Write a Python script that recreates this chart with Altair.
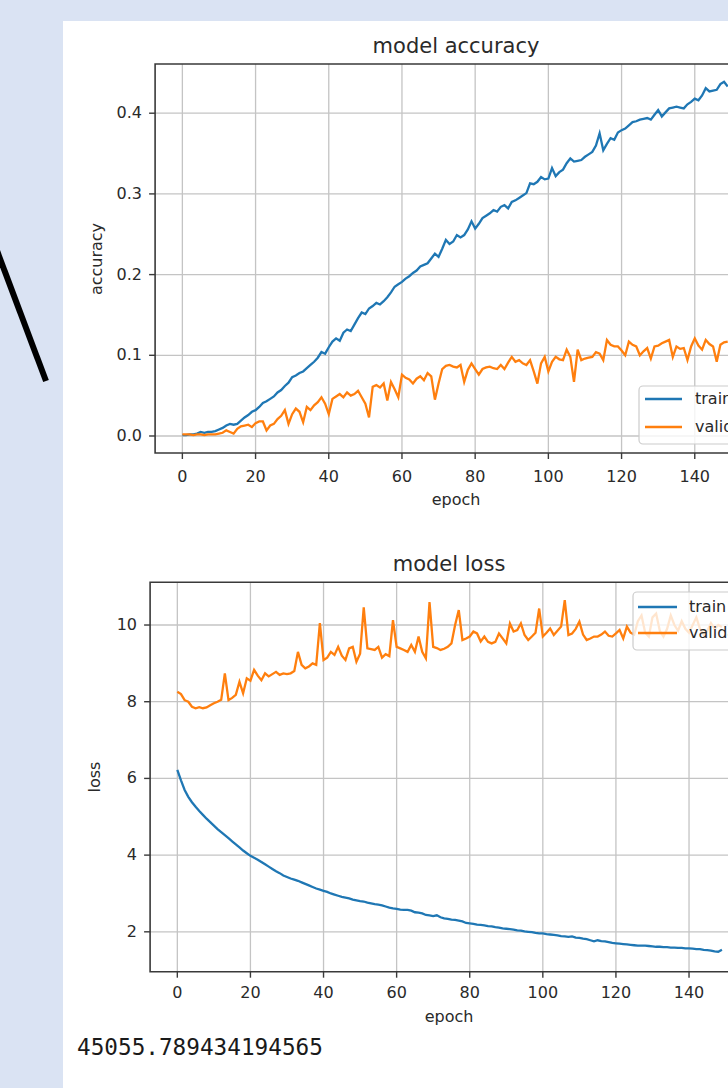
import altair as alt
import pandas as pd

# ---------------- data ----------------
epochs = list(range(150))
series_names = ["train", "validation"]
series_colors = ["#1f77b4", "#ff7f0e"]

train_acc = [
    0.001, 0.001, 0.002, 0.002, 0.003, 0.005, 0.004, 0.005, 0.005, 0.006,
    0.008, 0.010, 0.013, 0.015, 0.014, 0.015, 0.019, 0.023, 0.026, 0.030,
    0.032, 0.036, 0.041, 0.043, 0.046, 0.049, 0.054, 0.057, 0.062, 0.066,
    0.073, 0.075, 0.078, 0.080, 0.084, 0.088, 0.092, 0.097, 0.104, 0.102,
    0.110, 0.117, 0.121, 0.118, 0.128, 0.132, 0.130, 0.138, 0.146, 0.153,
    0.151, 0.158, 0.161, 0.165, 0.163, 0.167, 0.172, 0.178, 0.185, 0.188,
    0.191, 0.195, 0.198, 0.202, 0.205, 0.210, 0.212, 0.214, 0.220, 0.226,
    0.222, 0.232, 0.243, 0.238, 0.241, 0.249, 0.246, 0.249, 0.256, 0.266,
    0.257, 0.263, 0.270, 0.273, 0.276, 0.280, 0.278, 0.284, 0.286, 0.282,
    0.290, 0.292, 0.295, 0.298, 0.301, 0.313, 0.312, 0.315, 0.321, 0.318,
    0.319, 0.332, 0.322, 0.327, 0.330, 0.338, 0.344, 0.340, 0.341, 0.342,
    0.346, 0.349, 0.352, 0.360, 0.375, 0.354, 0.362, 0.369, 0.367, 0.376,
    0.379, 0.381, 0.385, 0.389, 0.390, 0.392, 0.393, 0.394, 0.392, 0.398,
    0.404, 0.396, 0.401, 0.406, 0.407, 0.408, 0.407, 0.406, 0.411, 0.414,
    0.418, 0.416, 0.422, 0.431, 0.427, 0.428, 0.429, 0.436, 0.439, 0.433,
]
val_acc = [
    0.002, 0.002, 0.002, 0.001, 0.002, 0.002, 0.001, 0.002, 0.002, 0.002,
    0.003, 0.004, 0.007, 0.005, 0.003, 0.009, 0.012, 0.013, 0.014, 0.011,
    0.016, 0.018, 0.018, 0.007, 0.013, 0.015, 0.021, 0.025, 0.032, 0.015,
    0.027, 0.034, 0.030, 0.017, 0.036, 0.032, 0.038, 0.042, 0.048, 0.040,
    0.027, 0.046, 0.049, 0.052, 0.048, 0.054, 0.050, 0.052, 0.056, 0.048,
    0.040, 0.023, 0.061, 0.063, 0.060, 0.065, 0.044, 0.067, 0.058, 0.048,
    0.076, 0.072, 0.070, 0.065, 0.071, 0.074, 0.069, 0.078, 0.074, 0.045,
    0.065, 0.083, 0.087, 0.088, 0.086, 0.085, 0.088, 0.067, 0.082, 0.090,
    0.083, 0.076, 0.083, 0.085, 0.086, 0.084, 0.083, 0.088, 0.083, 0.091,
    0.098, 0.092, 0.094, 0.090, 0.088, 0.094, 0.080, 0.065, 0.090, 0.098,
    0.080, 0.092, 0.098, 0.095, 0.094, 0.107, 0.098, 0.067, 0.107, 0.094,
    0.096, 0.097, 0.098, 0.104, 0.102, 0.094, 0.119, 0.113, 0.111, 0.111,
    0.106, 0.100, 0.117, 0.113, 0.111, 0.100, 0.105, 0.109, 0.096, 0.111,
    0.112, 0.115, 0.117, 0.119, 0.098, 0.111, 0.108, 0.109, 0.094, 0.111,
    0.121, 0.112, 0.107, 0.119, 0.114, 0.111, 0.092, 0.113, 0.116, 0.117,
]
train_loss = [
    6.22, 5.95, 5.70, 5.52, 5.38, 5.26, 5.15, 5.05, 4.95, 4.86,
    4.77, 4.68, 4.60, 4.52, 4.44, 4.36, 4.28, 4.20, 4.12, 4.05,
    3.98, 3.93, 3.88, 3.82, 3.76, 3.70, 3.64, 3.58, 3.53, 3.47,
    3.43, 3.39, 3.36, 3.33, 3.29, 3.25, 3.21, 3.17, 3.13, 3.10,
    3.07, 3.04, 3.00, 2.97, 2.94, 2.91, 2.89, 2.87, 2.84, 2.82,
    2.80, 2.79, 2.76, 2.74, 2.72, 2.71, 2.69, 2.66, 2.63, 2.61,
    2.60, 2.58, 2.57, 2.57, 2.55, 2.51, 2.50, 2.48, 2.44, 2.43,
    2.41, 2.43, 2.38, 2.35, 2.34, 2.32, 2.31, 2.29, 2.27, 2.23,
    2.22, 2.21, 2.19, 2.18, 2.17, 2.15, 2.14, 2.12, 2.11, 2.09,
    2.08, 2.07, 2.06, 2.04, 2.03, 2.01, 2.00, 1.99, 1.97, 1.96,
    1.96, 1.94, 1.93, 1.92, 1.91, 1.89, 1.88, 1.87, 1.88, 1.85,
    1.84, 1.82, 1.81, 1.78, 1.75, 1.78, 1.76, 1.75, 1.73, 1.71,
    1.70, 1.69, 1.68, 1.67, 1.66, 1.65, 1.64, 1.64, 1.64, 1.63,
    1.62, 1.61, 1.61, 1.60, 1.60, 1.59, 1.59, 1.58, 1.58, 1.57,
    1.57, 1.56, 1.55, 1.55, 1.53, 1.52, 1.51, 1.49, 1.48, 1.53,
]
val_loss = [
    8.26, 8.20, 8.04, 8.00, 7.87, 7.83, 7.86, 7.83, 7.85, 7.91,
    7.96, 8.00, 8.05, 8.74, 8.04, 8.10, 8.18, 8.52, 8.22, 8.61,
    8.55, 8.83, 8.68, 8.56, 8.74, 8.66, 8.72, 8.78, 8.70, 8.74,
    8.72, 8.74, 8.80, 9.30, 8.96, 8.87, 8.92, 9.00, 8.96, 10.05,
    9.09, 9.15, 9.30, 9.22, 9.43, 9.20, 9.09, 9.39, 9.43, 9.04,
    9.25, 10.46, 9.39, 9.37, 9.35, 9.43, 9.15, 9.24, 9.19, 10.13,
    9.43, 9.39, 9.35, 9.30, 9.48, 9.30, 9.70, 9.30, 9.13, 10.60,
    9.43, 9.40, 9.35, 9.38, 9.43, 9.52, 10.00, 10.39, 9.61, 9.65,
    9.70, 9.83, 9.78, 9.57, 9.70, 9.56, 9.52, 9.56, 9.78, 9.65,
    9.52, 10.04, 9.83, 9.87, 10.04, 9.74, 9.61, 9.70, 9.80, 10.43,
    9.70, 9.80, 9.91, 9.74, 9.85, 9.96, 10.65, 9.74, 9.78, 9.90,
    10.09, 9.75, 9.61, 9.65, 9.70, 9.70, 9.75, 9.83, 9.72, 9.70,
    9.78, 9.87, 9.65, 9.96, 9.80, 9.75, 10.10, 10.25, 9.80, 9.70,
    10.20, 10.30, 9.85, 9.70, 9.90, 10.25, 10.00, 9.85, 10.10, 9.90,
    9.80, 10.00, 10.20, 9.90, 9.75, 9.85, 10.05, 9.90, 10.00, 9.95,
]

x_ticks = [0, 20, 40, 60, 80, 100, 120, 140]
acc_y_ticks = [0.0, 0.1, 0.2, 0.3, 0.4]
acc_y_labels = ["0.0", "0.1", "0.2", "0.3", "0.4"]
loss_y_ticks = [2, 4, 6, 8, 10]
loss_y_labels = ["2", "4", "6", "8", "10"]
printed_number = "45055.789434194565"

# ---------------- style ----------------
W, H = 728, 1088
PAGE_BLUE = "#dae3f3"
GRID = "#c4c4c4"
SPINE = "#3a3a3a"
TXT = "#2a2a2a"
FONT = "DejaVu Sans"
TICK_FS = 16
LABEL_FS = 16
TITLE_FS = 21

one = pd.DataFrame({"k": [0]})


def panel(values_a, values_b, x_dom, x_rng, y_dom, y_rng, y_ticks, y_labels,
          title, title_xy, ylabel, ylabel_xy, xlabel_y, xtick_y, ylab_right,
          legend_box):
    X = alt.Scale(domain=x_dom, range=x_rng, nice=False, zero=False)
    Y = alt.Scale(domain=y_dom, range=y_rng, nice=False, zero=False)
    lines = pd.DataFrame({
        "epoch": epochs * 2,
        "value": list(values_a) + list(values_b),
        "series": [series_names[0]] * len(epochs) + [series_names[1]] * len(epochs),
    })
    vgrid = pd.DataFrame({"t": x_ticks, "y0": y_dom[0], "y1": y_dom[1],
                          "lab": [str(t) for t in x_ticks]})
    hgrid = pd.DataFrame({"t": y_ticks, "x0": x_dom[0], "x1": x_dom[1], "lab": y_labels})
    frame = pd.DataFrame({"x0": [x_dom[0]], "x1": [x_dom[1]], "y0": [y_dom[0]], "y1": [y_dom[1]]})

    layers = []
    layers.append(alt.Chart(vgrid).mark_rule(color=GRID, strokeWidth=1.3).encode(
        x=alt.X("t:Q", scale=X, axis=None), y=alt.Y("y0:Q", scale=Y, axis=None), y2="y1:Q"))
    layers.append(alt.Chart(hgrid).mark_rule(color=GRID, strokeWidth=1.3).encode(
        y=alt.Y("t:Q", scale=Y, axis=None), x=alt.X("x0:Q", scale=X, axis=None), x2="x1:Q"))
    layers.append(alt.Chart(lines).mark_line(strokeWidth=2.3, clip=False).encode(
        x=alt.X("epoch:Q", scale=X, axis=None),
        y=alt.Y("value:Q", scale=Y, axis=None),
        color=alt.Color("series:N", scale=alt.Scale(domain=series_names, range=series_colors), legend=None),
        order="epoch:Q"))
    layers.append(alt.Chart(frame).mark_rect(filled=False, stroke=SPINE, strokeWidth=1.6).encode(
        x=alt.X("x0:Q", scale=X, axis=None), x2="x1:Q",
        y=alt.Y("y0:Q", scale=Y, axis=None), y2="y1:Q"))
    # tick marks
    layers.append(alt.Chart(vgrid).mark_rule(color=SPINE, strokeWidth=1.4, y2Offset=6).encode(
        x=alt.X("t:Q", scale=X, axis=None), y=alt.Y("y0:Q", scale=Y, axis=None), y2="y0:Q"))
    layers.append(alt.Chart(hgrid).mark_rule(color=SPINE, strokeWidth=1.4, x2Offset=-6).encode(
        y=alt.Y("t:Q", scale=Y, axis=None), x=alt.X("x0:Q", scale=X, axis=None), x2="x0:Q"))
    # tick labels
    layers.append(alt.Chart(vgrid).mark_text(font=FONT, fontSize=TICK_FS, color=TXT,
                                             baseline="middle", align="center").encode(
        x=alt.X("t:Q", scale=X, axis=None), y=alt.value(xtick_y), text="lab:N"))
    layers.append(alt.Chart(hgrid).mark_text(font=FONT, fontSize=TICK_FS, color=TXT,
                                             baseline="middle", align="right").encode(
        y=alt.Y("t:Q", scale=Y, axis=None), x=alt.value(ylab_right), text="lab:N"))
    # titles
    layers.append(alt.Chart(one).mark_text(text=title, font=FONT, fontSize=TITLE_FS, color=TXT,
                                           baseline="middle", align="center").encode(
        x=alt.value(title_xy[0]), y=alt.value(title_xy[1])))
    layers.append(alt.Chart(one).mark_text(text="epoch", font=FONT, fontSize=LABEL_FS, color=TXT,
                                           baseline="middle", align="center").encode(
        x=alt.value(title_xy[0]), y=alt.value(xlabel_y)))
    layers.append(alt.Chart(one).mark_text(text=ylabel, font=FONT, fontSize=LABEL_FS, color=TXT,
                                           baseline="middle", align="center", angle=270).encode(
        x=alt.value(ylabel_xy[0]), y=alt.value(ylabel_xy[1])))
    # legend
    bx, by0, by1, lx0, lx1, ly_a, ly_b, tx = legend_box
    layers.append(alt.Chart(one).mark_rect(fill="white", fillOpacity=0.8, stroke="#cccccc",
                                           strokeWidth=1.2, cornerRadius=4).encode(
        x=alt.value(bx), x2=alt.value(bx + 140), y=alt.value(by0), y2=alt.value(by1)))
    for name, col, ly in zip(series_names, series_colors, [ly_a, ly_b]):
        layers.append(alt.Chart(one).mark_rule(color=col, strokeWidth=2.3).encode(
            x=alt.value(lx0), x2=alt.value(lx1), y=alt.value(ly)))
        layers.append(alt.Chart(one).mark_text(text=name, font=FONT, fontSize=LABEL_FS, color=TXT,
                                               baseline="middle", align="left").encode(
            x=alt.value(tx), y=alt.value(ly)))
    return layers


# page decoration
deco = [
    alt.Chart(one).mark_rect(color=PAGE_BLUE).encode(
        x=alt.value(0), x2=alt.value(63), y=alt.value(0), y2=alt.value(H)),
    alt.Chart(one).mark_rect(color=PAGE_BLUE).encode(
        x=alt.value(0), x2=alt.value(W), y=alt.value(0), y2=alt.value(21)),
    alt.Chart(one).mark_rule(color="black", strokeWidth=6).encode(
        x=alt.value(-4), y=alt.value(248), x2=alt.value(46), y2=alt.value(381)),
]

top = panel(train_acc, val_acc,
            x_dom=[-7.45, 156.45], x_rng=[155.1, 155.1 + 163.9 * 3.66],
            y_dom=[-0.02107, 0.46097], y_rng=[453, 64],
            y_ticks=acc_y_ticks, y_labels=acc_y_labels,
            title="model accuracy", title_xy=(456, 47),
            ylabel="accuracy", ylabel_xy=(97, 259),
            xlabel_y=500, xtick_y=477, ylab_right=142,
            legend_box=(639, 386, 444, 645, 682, 399, 427, 695))

bottom = panel(train_loss, val_loss,
               x_dom=[-7.45, 156.45], x_rng=[150.1, 150.1 + 163.9 * 3.655],
               y_dom=[0.96, 11.114], y_rng=[971.7, 582.3],
               y_ticks=loss_y_ticks, y_labels=loss_y_labels,
               title="model loss", title_xy=(449, 565),
               ylabel="loss", ylabel_xy=(95, 777),
               xlabel_y=1017, xtick_y=993, ylab_right=137,
               legend_box=(633, 592, 650, 638, 677, 607, 633, 689))

number = alt.Chart(one).mark_text(text=printed_number, font="DejaVu Sans Mono", fontSize=22.7,
                                  color="#1a1a1a", baseline="middle", align="left").encode(
    x=alt.value(77), y=alt.value(1048))

chart = alt.layer(*deco, *top, *bottom, number).resolve_scale(
    x="independent", y="independent", color="independent"
).properties(
    width=W, height=H, background="white", padding=0, autosize=alt.AutoSizeParams(type="none")
).configure_view(stroke=None)

chart.save("out.html", embed_options={"renderer": "svg", "actions": False})
